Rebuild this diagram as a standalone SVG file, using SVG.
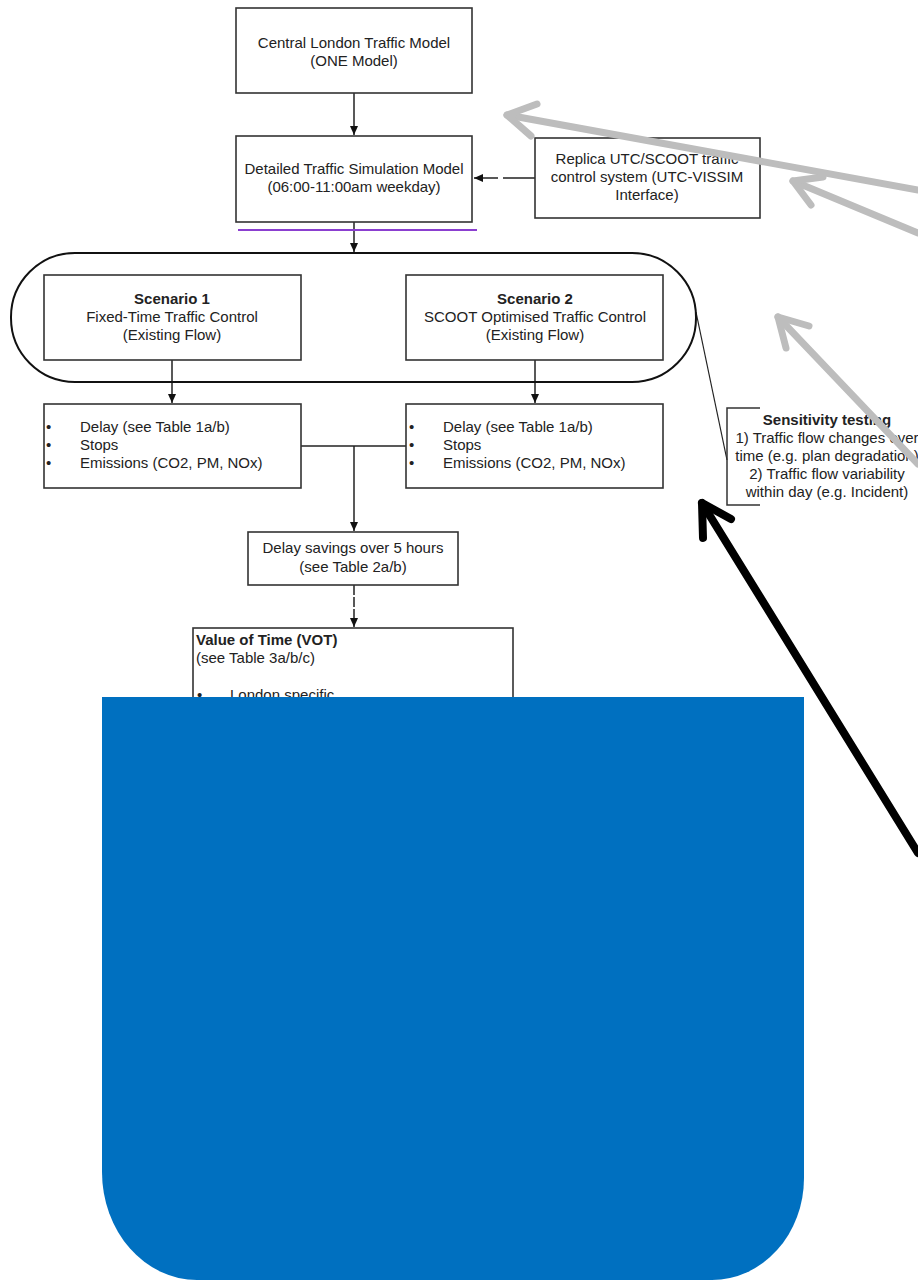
<svg xmlns="http://www.w3.org/2000/svg" width="918" height="1280" viewBox="0 0 918 1280">
<style>
.box{fill:#fff;stroke:#333;stroke-width:1.6}
.t{font-family:"Liberation Sans",Arial,sans-serif;font-size:15px;fill:#222}
.c{text-anchor:middle}
.b{font-weight:bold}
.ln{fill:none;stroke:#222;stroke-width:1.5}
.gray{fill:none;stroke:#bdbdbd;stroke-width:7;stroke-linecap:round;stroke-linejoin:round}
.blk{fill:none;stroke:#000;stroke-width:8;stroke-linecap:round;stroke-linejoin:round}
</style>
<defs>
<marker id="ah" markerWidth="10" markerHeight="10" refX="9" refY="5" orient="auto" markerUnits="userSpaceOnUse">
<path d="M0,1 L9,5 L0,9 Z" fill="#111"/>
</marker>
</defs>
<rect width="918" height="1280" fill="#fff"/>

<g id="connectors">
<line class="ln" x1="354" y1="93" x2="354" y2="135" marker-end="url(#ah)"/>
<line class="ln" x1="535" y1="178" x2="474" y2="178" stroke-dasharray="32,5,40" marker-end="url(#ah)"/>
<line class="ln" x1="354" y1="222" x2="354" y2="252" marker-end="url(#ah)"/>
<line class="ln" x1="172" y1="360" x2="172" y2="403" marker-end="url(#ah)"/>
<line class="ln" x1="535" y1="360" x2="535" y2="403" marker-end="url(#ah)"/>
<polyline class="ln" points="301,446 406,446"/>
<line class="ln" x1="354" y1="446" x2="354" y2="531" marker-end="url(#ah)"/>
<line class="ln" x1="354" y1="585" x2="354" y2="627" stroke-dasharray="10,2" marker-end="url(#ah)"/>
<line x1="696" y1="312" x2="727" y2="460" stroke="#222" stroke-width="1.2"/>
</g>

<g id="node-central">
<rect class="box" x="236" y="8" width="236" height="85"/>
<text class="t c" x="354" y="48">Central London Traffic Model</text>
<text class="t c" x="354" y="66">(ONE Model)</text>
</g>

<g id="node-detailed">
<rect class="box" x="236" y="136" width="236" height="86"/>
<text class="t c" x="354" y="174">Detailed Traffic Simulation Model</text>
<text class="t c" x="354" y="192">(06:00-11:00am weekday)</text>
<line x1="238" y1="230" x2="477" y2="230" stroke="#8b3fd0" stroke-width="2"/>
</g>

<g id="node-replica">
<rect class="box" x="535" y="138" width="225" height="80"/>
<text class="t c" x="647" y="164">Replica UTC/SCOOT traffic</text>
<text class="t c" x="647" y="182">control system (UTC-VISSIM</text>
<text class="t c" x="647" y="200">Interface)</text>
</g>

<g id="node-scenarios">
<rect x="11" y="253" width="685" height="129" rx="64" ry="64" fill="none" stroke="#111" stroke-width="2"/>
</g>

<g id="node-scenario1">
<rect class="box" x="44" y="275" width="257" height="85"/>
<text class="t c b" x="172" y="304">Scenario 1</text>
<text class="t c" x="172" y="322">Fixed-Time Traffic Control</text>
<text class="t c" x="172" y="340">(Existing Flow)</text>
</g>

<g id="node-scenario2">
<rect class="box" x="406" y="275" width="257" height="85"/>
<text class="t c b" x="535" y="304">Scenario 2</text>
<text class="t c" x="535" y="322">SCOOT Optimised Traffic Control</text>
<text class="t c" x="535" y="340">(Existing Flow)</text>
</g>

<g id="node-delay1">
<rect class="box" x="44" y="404" width="257" height="84"/>
<text class="t" x="46" y="432">•</text>
<text class="t" x="46" y="450">•</text>
<text class="t" x="46" y="468">•</text>
<text class="t" x="80" y="432">Delay (see Table 1a/b)</text>
<text class="t" x="80" y="450">Stops</text>
<text class="t" x="80" y="468">Emissions (CO2, PM, NOx)</text>
</g>

<g id="node-delay2">
<rect class="box" x="406" y="404" width="257" height="84"/>
<text class="t" x="409" y="432">•</text>
<text class="t" x="409" y="450">•</text>
<text class="t" x="409" y="468">•</text>
<text class="t" x="443" y="432">Delay (see Table 1a/b)</text>
<text class="t" x="443" y="450">Stops</text>
<text class="t" x="443" y="468">Emissions (CO2, PM, NOx)</text>
</g>

<g id="node-sensitivity">
<path d="M760,408 H727 V505 H760" fill="none" stroke="#333" stroke-width="1.5"/>
<text class="t c b" x="827" y="425">Sensitivity testing</text>
<text class="t c" x="827" y="443">1) Traffic flow changes over</text>
<text class="t c" x="827" y="461">time (e.g. plan degradation)</text>
<text class="t c" x="827" y="479">2) Traffic flow variability</text>
<text class="t c" x="827" y="497">within day (e.g. Incident)</text>
</g>

<g id="node-savings">
<rect class="box" x="248" y="532" width="210" height="53"/>
<text class="t c" x="353" y="553">Delay savings over 5 hours</text>
<text class="t c" x="353" y="572">(see Table 2a/b)</text>
</g>

<g id="node-vot">
<rect class="box" x="193" y="628" width="320" height="120"/>
<text class="t b" x="196" y="645">Value of Time (VOT)</text>
<text class="t" x="196" y="663">(see Table 3a/b/c)</text>
<text class="t" x="197" y="700">•</text>
<text class="t" x="230" y="700">London specific</text>
</g>

<g id="cover">
<path d="M102,697 H804 V1178 A92,102 0 0 1 712,1280 H197 A95,108 0 0 1 102,1172 Z" fill="#0070c0"/>
</g>

<g id="annotations">
<line class="gray" x1="918" y1="190" x2="507" y2="115"/>
<polyline class="gray" points="531,136 507,115 537,104"/>
<line class="gray" x1="918" y1="233" x2="793" y2="181"/>
<polyline class="gray" points="811,205 793,181 823,177"/>
<line class="gray" x1="918" y1="464" x2="778" y2="317"/>
<polyline class="gray" points="786,348 778,317 809,326"/>
<line class="blk" x1="918" y1="853" x2="702" y2="503"/>
<polyline class="blk" points="703,538 702,503 731,519"/>
</g>
</svg>
